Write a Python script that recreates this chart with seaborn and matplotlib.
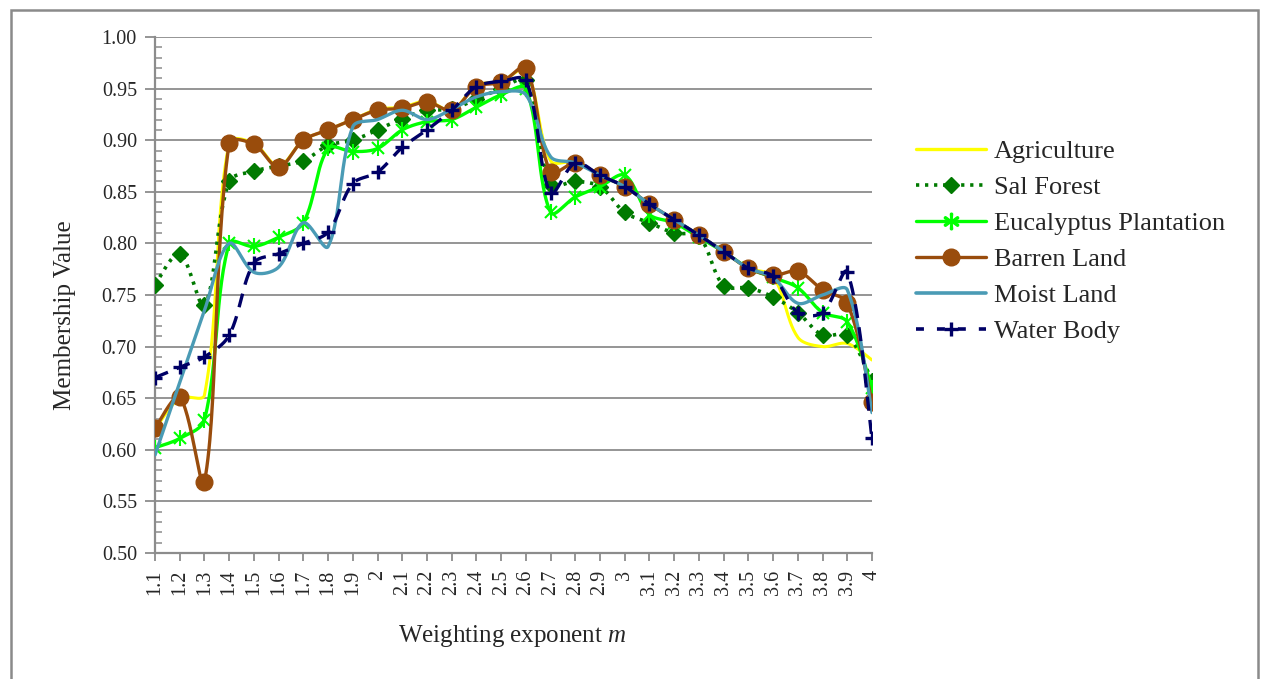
import numpy as np
import pandas as pd
import matplotlib
matplotlib.use("Agg")
import matplotlib.pyplot as plt
import matplotlib.patches as mpatches
from matplotlib.lines import Line2D
from matplotlib.ticker import MultipleLocator, FormatStrFormatter
import seaborn as sns

# ---------------- data ----------------
categories = ['1.1', '1.2', '1.3', '1.4', '1.5', '1.6', '1.7', '1.8', '1.9', '2',
              '2.1', '2.2', '2.3', '2.4', '2.5', '2.6', '2.7', '2.8', '2.9', '3',
              '3.1', '3.2', '3.3', '3.4', '3.5', '3.6', '3.7', '3.8', '3.9', '4']

agriculture = [0.620, 0.650, 0.653, 0.898, 0.897, 0.875, 0.900, 0.910, 0.920, 0.930,
               0.932, 0.938, 0.929, 0.953, 0.957, 0.968, 0.880, 0.879, 0.866, 0.855,
               0.838, 0.823, 0.808, 0.792, 0.776, 0.768, 0.709, 0.700, 0.703, 0.687]
sal_forest = [0.760, 0.790, 0.740, 0.860, 0.870, 0.875, 0.880, 0.895, 0.900, 0.910,
              0.921, 0.929, 0.930, 0.940, 0.950, 0.958, 0.857, 0.860, 0.855, 0.830,
              0.820, 0.810, 0.807, 0.759, 0.757, 0.748, 0.733, 0.711, 0.711, 0.667]
eucalyptus = [0.602, 0.611, 0.629, 0.800, 0.797, 0.806, 0.820, 0.892, 0.889, 0.892,
              0.910, 0.918, 0.920, 0.932, 0.944, 0.950, 0.830, 0.845, 0.855, 0.866,
              0.828, 0.820, 0.806, 0.792, 0.776, 0.767, 0.757, 0.733, 0.724, 0.660]
barren_land = [0.621, 0.651, 0.569, 0.897, 0.896, 0.874, 0.900, 0.910, 0.920, 0.929,
               0.931, 0.937, 0.929, 0.952, 0.956, 0.970, 0.869, 0.878, 0.866, 0.855,
               0.838, 0.823, 0.808, 0.792, 0.776, 0.769, 0.773, 0.755, 0.742, 0.646]
moist_land = [0.595, 0.665, 0.735, 0.800, 0.772, 0.777, 0.820, 0.797, 0.913, 0.920,
              0.929, 0.920, 0.930, 0.942, 0.947, 0.944, 0.884, 0.878, 0.866, 0.855,
              0.838, 0.823, 0.808, 0.792, 0.776, 0.767, 0.742, 0.750, 0.755, 0.636]
water_body = [0.670, 0.680, 0.690, 0.711, 0.781, 0.790, 0.800, 0.811, 0.858, 0.869,
              0.893, 0.910, 0.929, 0.952, 0.957, 0.958, 0.849, 0.878, 0.866, 0.855,
              0.838, 0.823, 0.808, 0.792, 0.776, 0.768, 0.733, 0.733, 0.772, 0.611]

series_names = ['Agriculture', 'Sal Forest', 'Eucalyptus Plantation',
                'Barren Land', 'Moist Land', 'Water Body']
series_values = [agriculture, sal_forest, eucalyptus, barren_land, moist_land, water_body]

# ---------------- style ----------------
sns.set_theme(style="white")
plt.rcParams['font.family'] = ['Liberation Serif', 'DejaVu Serif']
plt.rcParams['mathtext.fontset'] = 'custom'
plt.rcParams['mathtext.rm'] = 'Liberation Serif'
plt.rcParams['mathtext.it'] = 'Liberation Serif:italic'

colors = {'Agriculture': '#FFFF00', 'Sal Forest': '#007A00',
          'Eucalyptus Plantation': '#00FF00', 'Barren Land': '#994C0C',
          'Moist Land': '#4A9BB5', 'Water Body': '#000066'}
GRAY = '#8C8C8C'

W, H = 1261, 679
AX_L, AX_R, AX_T, AX_B = 155, 872, 37, 553
YMIN, YMAX = 0.5, 1.0


def smooth(xv, yv, n=30):
    """Excel-like smoothed line: Bezier through the points, control arms
    scaled by neighbouring segment lengths (in screen space)."""
    sx = (AX_R - AX_L) / (len(xv) - 1)
    sy = (AX_B - AX_T) / (YMAX - YMIN)
    P = np.column_stack([np.asarray(xv, float) * sx, np.asarray(yv, float) * sy])
    m = len(P)
    out = []
    t = np.linspace(0, 1, n, endpoint=False)
    f = 1.0 / 6.0

    def dist(a, b):
        return float(np.hypot(*(P[a] - P[b])))

    for i in range(m - 1):
        i0, i1, i2, i3 = max(i - 1, 0), i, i + 1, min(i + 2, m - 1)
        p0, p1, p2, p3 = P[i0], P[i1], P[i2], P[i3]
        d01, d12, d23 = dist(i0, i1), dist(i1, i2), dist(i2, i3)
        k1 = 2 * d12 / (d01 + d12) if d01 > 0 else 1.0
        k2 = 2 * d12 / (d12 + d23) if d23 > 0 else 1.0
        c1 = p1 + (p2 - p0) * f * k1
        c2 = p2 - (p3 - p1) * f * k2
        b = ((1 - t) ** 3)[:, None] * p1 + (3 * (1 - t) ** 2 * t)[:, None] * c1 \
            + (3 * (1 - t) * t ** 2)[:, None] * c2 + (t ** 3)[:, None] * p2
        out.append(b)
    out.append(P[-1][None, :])
    out = np.vstack(out)
    return out[:, 0] / sx, out[:, 1] / sy


fig = plt.figure(figsize=(W / 100, H / 100), dpi=100)
ax = fig.add_axes([AX_L / W, 1 - AX_B / H, (AX_R - AX_L) / W, (AX_B - AX_T) / H])

ax.set_ylim(YMIN, YMAX)
ax.set_xlim(0, len(categories) - 1)
ax.yaxis.set_major_locator(MultipleLocator(0.05))
ax.yaxis.set_minor_locator(MultipleLocator(0.01))
ax.yaxis.set_major_formatter(FormatStrFormatter('%.2f'))
ax.grid(axis='y', which='major', color=GRAY, lw=1.3, zorder=0)
ax.grid(axis='x', visible=False)
ax.set_axisbelow(True)

xpos = np.arange(len(categories))

line_styles = {
    'Agriculture': dict(ls='-', lw=2.2),
    'Sal Forest': dict(ls=(0, (0.9, 1.6)), lw=2.6),
    'Eucalyptus Plantation': dict(ls='-', lw=2.4),
    'Barren Land': dict(ls='-', lw=2.4),
    'Moist Land': dict(ls='-', lw=2.4),
    'Water Body': dict(ls=(0, (4.2, 2.8)), lw=2.4),
}

for k, (name, vals) in enumerate(zip(series_names, series_values)):
    sx_, sy_ = smooth(xpos, vals)
    df = pd.DataFrame({'x': sx_, 'y': sy_})
    st = line_styles[name]
    sns.lineplot(data=df, x='x', y='y', ax=ax, sort=False, estimator=None,
                 color=colors[name], linewidth=st['lw'], zorder=3 + k)
    ax.lines[-1].set_linestyle(st['ls'])
    ax.lines[-1].set_solid_capstyle('round')
    c = colors[name]
    if name == 'Sal Forest':
        ax.plot(xpos, vals, ls='none', marker='D', ms=8.5, color=c, mec=c, zorder=3 + k)
    elif name == 'Eucalyptus Plantation':
        ax.plot(xpos, vals, ls='none', marker='x', ms=8.5, mew=1.5, color=c, zorder=3 + k)
        ax.plot(xpos, vals, ls='none', marker='|', ms=11, mew=1.5, color=c, zorder=3 + k)
    elif name == 'Barren Land':
        ax.plot(xpos, vals, ls='none', marker='o', ms=12, color=c, mec=c, zorder=3 + k)
    elif name == 'Water Body':
        ax.plot(xpos, vals, ls='none', marker='+', ms=10, mew=2.4, color=c, zorder=3 + k)

# axes
ax.set_xticks(xpos)
ax.set_xticklabels(categories, rotation=90, fontsize=14.5)
for lab in ax.get_yticklabels():
    lab.set_fontsize(14.5)
ax.tick_params(axis='x', which='major', direction='out', length=6, width=1.3,
               color=GRAY, pad=6, bottom=True)
ax.tick_params(axis='y', which='major', direction='out', length=7, width=1.3,
               color=GRAY, pad=6, left=True, labelsize=14.5)
ax.tick_params(axis='y', which='minor', direction='in', length=5, width=1.1,
               color=GRAY, left=True)
for s in ['top', 'right']:
    ax.spines[s].set_visible(False)
for s in ['left', 'bottom']:
    ax.spines[s].set_color(GRAY)
    ax.spines[s].set_linewidth(1.6)

ax.set_xlabel('')
ax.set_ylabel('')
fig.text(65 / W, 1 - 315 / H, 'Membership Value', rotation=90, fontsize=18,
         ha='center', va='center')
fig.text(512 / W, 1 - 636 / H, r'Weighting exponent $\mathit{m}$', fontsize=18,
         ha='center', va='center')

# legend
handles = [
    Line2D([], [], color=colors['Agriculture'], lw=2.4),
    Line2D([], [], color=colors['Sal Forest'], lw=2.6, ls=(0, (0.9, 1.6)),
           marker='D', ms=8.5, mec=colors['Sal Forest']),
    Line2D([], [], color=colors['Eucalyptus Plantation'], lw=2.4, marker='$\\ast$',
           ms=12),
    Line2D([], [], color=colors['Barren Land'], lw=2.4, marker='o', ms=12,
           mec=colors['Barren Land']),
    Line2D([], [], color=colors['Moist Land'], lw=2.6),
    Line2D([], [], color=colors['Water Body'], lw=2.6, ls=(0, (2.2, 3.6)),
           marker='+', ms=10, mew=2.4),
]
fig.legend(handles, series_names, loc='upper left',
           bbox_to_anchor=(916 / W, 1 - 140 / H), frameon=False, fontsize=19,
           handlelength=2.65, handletextpad=0.3, labelspacing=0.47,
           borderpad=0, borderaxespad=0)

# chart-area border
fig.patches.append(mpatches.Rectangle((10.5 / W, -0.02), (1258 - 10.5) / W,
                                      1 - 9.5 / H + 0.02, transform=fig.transFigure,
                                      fill=False, edgecolor='#8A8A8A', lw=1.8))

fig.savefig('out.png', dpi=100, facecolor='white')
